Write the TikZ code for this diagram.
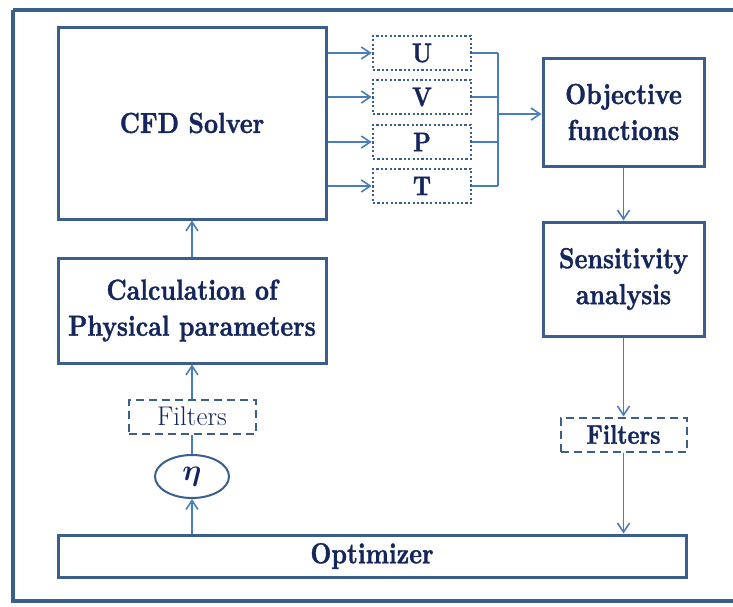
\RequirePackage{fix-cm}
\documentclass[tikz,border=0pt]{standalone}
\usepackage{amsmath,amssymb,bm}
\usepackage{fontspec}
\newfontfamily\titlefont[FakeStretch=0.84, FakeBold=1.2, Extension=.otf]{lmroman10-bold}
\usetikzlibrary{arrows.meta,shapes.geometric}
\definecolor{boxline}{RGB}{59,95,140}
\definecolor{wire}{RGB}{74,126,187}
\definecolor{ink}{RGB}{20,38,92}
\tikzset{
  x=1pt, y=-1pt,
  block/.style={draw=boxline, line width=3pt, fill=white, text=ink,
    align=center, inner sep=0pt, font=\titlefont\fontsize{29}{36}\selectfont},
  varbox/.style={draw=boxline, line width=2.6pt, dash pattern=on 2.2pt off 2.2pt,
    text=ink, inner sep=0pt, minimum width=98pt, minimum height=34pt,
    font=\titlefont\fontsize{27}{30}\selectfont},
  filterbox/.style={draw=boxline, line width=2pt, dash pattern=on 8pt off 5pt,
    text=ink, inner sep=0pt, minimum height=34pt},
  wireline/.style={draw=wire, line width=1.8pt},
  flow/.style={wireline, -{Straight Barb[length=9pt,width=12pt,line width=1.6pt]}},
}
\begin{document}
\begin{tikzpicture}
\useasboundingbox (0,0) rectangle (733,606);
% outer frame (right side runs past the page edge)
\draw[boxline, line width=4.5pt] (13,10) -- (745,10) (13,10) -- (13,601) -- (745,601);

% main blocks
\node[block, minimum width=268pt, minimum height=192pt] (cfd) at (192,123) {CFD Solver};
\node[block, minimum width=268pt, minimum height=105pt] (calc) at (192,310.5) {Calculation of\\Physical parameters};
\node[block, minimum width=161pt, minimum height=108pt] (obj) at (623.5,112) {Objective\\functions};
\node[block, minimum width=161pt, minimum height=114pt] (sens) at (623.5,279) {Sensitivity\\analysis};
\node[block, minimum width=628pt, minimum height=42pt] (opt) at (372,556) {Optimizer};

% field variables
\node[varbox] (u) at (422,53) {U};
\node[varbox] (v) at (422,97) {V};
\node[varbox] (p) at (422,142) {P};
\node[varbox] (t) at (422,186) {T};

% filters and design variable
\node[filterbox, minimum width=127pt, font=\fontsize{27}{30}\selectfont] (filtL) at (192,416.5) {Filters};
\node[filterbox, minimum width=126pt, font=\titlefont\fontsize{27}{30}\selectfont] (filtR) at (623.5,434.5) {Filters};
\node[ellipse, draw=boxline, line width=2pt, text=ink, inner sep=0pt,
      minimum width=74pt, minimum height=43pt,
      font=\fontsize{30}{34}\selectfont\boldmath] (eta) at (192,476.5) {$\eta$};

% solver outputs
\foreach \n in {u,v,p,t}
  \draw[flow] (cfd.east |- \n.west) -- (\n.west);
\coordinate (bus) at (498,114);
\foreach \n in {u,v,p,t}
  \draw[wireline] (\n.east) -- (bus |- \n.east);
\draw[wireline] (bus |- u.east) -- (bus |- t.east);
\draw[flow] (bus) -- (bus -| obj.west);

% right column
\draw[flow] (obj.south) -- (sens.north);
\draw[flow] (sens.south) -- (filtR.north);
\draw[flow] (filtR.south) -- (filtR.south |- opt.north);

% left column
\draw[flow] (eta.south |- opt.north) -- (eta.south);
\draw[wireline] (eta.north) -- (filtL.south);
\draw[flow] (filtL.north) -- (calc.south);
\draw[flow] (calc.north) -- (cfd.south);
\end{tikzpicture}
\end{document}
